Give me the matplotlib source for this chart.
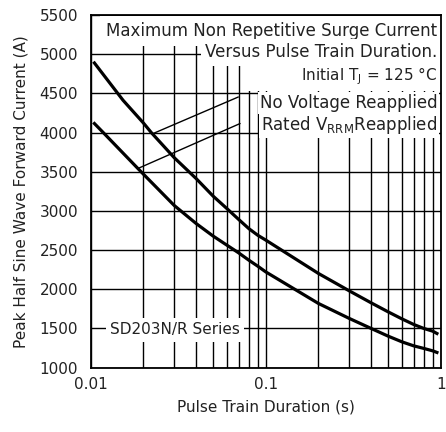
import matplotlib
matplotlib.use('Agg')
from matplotlib import pyplot as plt
from matplotlib.ticker import FixedLocator, NullFormatter, FixedFormatter

# curves
dur_no_volt = [0.0105, 0.0153, 0.02, 0.0222, 0.03, 0.04, 0.05, 0.06, 0.07, 0.08,
               0.09, 0.1, 0.2, 0.3, 0.4, 0.5, 0.6, 0.7, 0.8, 0.9, 0.95]
amp_no_volt = [4889, 4413, 4123, 4000, 3680, 3414, 3190, 3030, 2892, 2775,
               2690, 2628, 2202, 1980, 1827, 1712, 1622, 1551, 1500, 1465, 1436]

dur_rated = [0.0105, 0.0118, 0.0186, 0.02, 0.03, 0.04, 0.05, 0.06, 0.07, 0.08,
             0.09, 0.1, 0.2, 0.3, 0.4, 0.5, 0.6, 0.7, 0.8, 0.9, 0.95]
amp_rated = [4116, 4000, 3542, 3470, 3070, 2840, 2680, 2563, 2465, 2372,
             2295, 2222, 1819, 1628, 1500, 1402, 1329, 1278, 1245, 1214, 1194]

x_ticks = [0.01, 0.1, 1]
x_tick_labels = ['0.01', '0.1', '1']
x_minor = [0.02, 0.03, 0.04, 0.05, 0.06, 0.07, 0.08, 0.09,
           0.2, 0.3, 0.4, 0.5, 0.6, 0.7, 0.8, 0.9]
y_ticks = list(range(1000, 5501, 500))

TXT = '#222222'
FS = 11
FS_NOTE = 12

fig = plt.figure(figsize=(4.46, 4.32), dpi=100)
ax = fig.add_axes([0.2034, 0.149, 0.785, 0.816])

ax.set_xscale('log')
ax.set_xlim(0.01, 1)
ax.set_ylim(1000, 5500)

ax.xaxis.set_major_locator(FixedLocator(x_ticks))
ax.xaxis.set_major_formatter(FixedFormatter(x_tick_labels))
ax.xaxis.set_minor_locator(FixedLocator(x_minor))
ax.xaxis.set_minor_formatter(NullFormatter())
ax.set_yticks(y_ticks)

ax.grid(True, which='both', color='black', linewidth=1.0, zorder=0)
ax.tick_params(which='both', length=0, labelsize=FS, labelcolor=TXT)
ax.tick_params(axis='y', pad=9)
ax.tick_params(axis='x', pad=7)
for s in ax.spines.values():
    s.set_linewidth(1.3)
    s.set_zorder(6)

ax.plot(dur_no_volt, amp_no_volt, color='black', linewidth=2.3, zorder=4,
        solid_joinstyle='round')
ax.plot(dur_rated, amp_rated, color='black', linewidth=2.3, zorder=4,
        solid_joinstyle='round')

ax.set_xlabel('Pulse Train Duration (s)', fontsize=FS, color=TXT, labelpad=5)
ax.set_ylabel('Peak Half Sine Wave Forward Current (A)', fontsize=FS, color=TXT, labelpad=8)

box = dict(facecolor='white', edgecolor='none', pad=3.0)
small_box = dict(facecolor='white', edgecolor='none', pad=1.5)
ax.text(0.99, 0.955, 'Maximum Non Repetitive Surge Current', transform=ax.transAxes,
        ha='right', va='center', fontsize=FS_NOTE, color=TXT,
        bbox=dict(facecolor='white', edgecolor='none', pad=4.5), zorder=3)
ax.text(0.99, 0.894, 'Versus Pulse Train Duration.', transform=ax.transAxes,
        ha='right', va='center', fontsize=FS_NOTE, color=TXT, bbox=box, zorder=3)
# leading spaces widen the white patch over the grid, as in the original
ax.text(0.99, 0.828, '           Initial T$_\\mathregular{J}$ = 125 °C', transform=ax.transAxes,
        ha='right', va='center', fontsize=FS, color=TXT, bbox=box, zorder=3)
ax.text(0.99, 0.752, 'No Voltage Reapplied', transform=ax.transAxes,
        ha='right', va='center', fontsize=FS_NOTE, color=TXT, bbox=small_box, zorder=3.2)
ax.text(0.99, 0.688, 'Rated V$_\\mathregular{RRM}$Reapplied', transform=ax.transAxes,
        ha='right', va='center', fontsize=FS_NOTE, color=TXT, bbox=small_box, zorder=3.1)
ax.text(0.055, 0.107, 'SD203N/R Series', transform=ax.transAxes,
        ha='left', va='center', fontsize=FS, color=TXT, bbox=box, zorder=3)

# leader lines from the labels to the curves
ax.annotate('', xy=(0.0227, 3988), xytext=(0.0697, 4455),
            arrowprops=dict(arrowstyle='-', color='black', linewidth=1.0,
                            shrinkA=0, shrinkB=0), zorder=5)
ax.annotate('', xy=(0.0186, 3542), xytext=(0.0713, 4116),
            arrowprops=dict(arrowstyle='-', color='black', linewidth=1.0,
                            shrinkA=0, shrinkB=0), zorder=5)

fig.savefig('out.png', dpi=100)
